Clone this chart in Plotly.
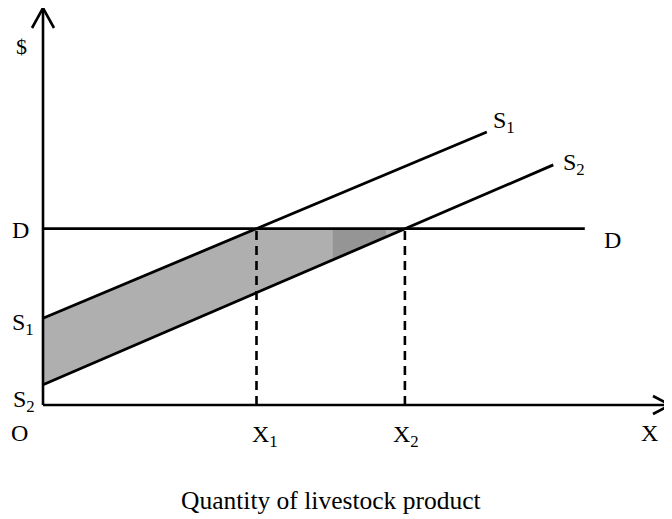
import numpy as np
import plotly.graph_objects as go

# ---- data (units of the diagram) ----
price_D = 2.52            # demand (price) level
qty_X1 = 3.05             # quantity at S1 ∩ D
qty_X2 = 5.17             # quantity at S2 ∩ D
D_x = [0.0, 7.74]
D_y = [2.52, 2.52]
S1_x = [0.0, 6.34]
S1_y = [1.24, 3.90]
S2_x = [0.0, 7.29]
S2_y = [0.29, 3.43]
dark_band_x = [4.14, 4.90]  # darker part of the shaded triangle

# ---- layout geometry ----
PAGE_OFF = 8               # default page margin of the html body
W, H = 672 - PAGE_OFF, 519 - PAGE_OFF
UNIT = 70.0                # px per unit
ORIG_PX = (43 - PAGE_OFF, 405 - PAGE_OFF)   # pixel position of origin inside figure
xr = [-ORIG_PX[0] / UNIT, (W - ORIG_PX[0]) / UNIT]
yr = [-(H - ORIG_PX[1]) / UNIT, ORIG_PX[1] / UNIT]
x_axis_end = (670 - 43) / UNIT
y_axis_end = (405 - 8) / UNIT

def s2_at(x):
    return float(np.interp(x, S2_x, S2_y))

fig = go.Figure()

# shaded area between supplies, bounded by demand
fig.add_trace(go.Scatter(
    x=[0, qty_X1, qty_X2, 0], y=[S1_y[0], price_D, price_D, S2_y[0]],
    fill="toself", fillcolor="#afafaf", mode="none", hoverinfo="skip"))
a, b = dark_band_x
fig.add_trace(go.Scatter(
    x=[a, b, b, a], y=[price_D, price_D, s2_at(b), s2_at(a)],
    fill="toself", fillcolor="#959595", mode="none", hoverinfo="skip"))

line = dict(color="black", width=2.8)
# supply and demand lines
for xs, ys in [(D_x, D_y), (S1_x, S1_y), (S2_x, S2_y)]:
    fig.add_trace(go.Scatter(x=xs, y=ys, mode="lines", line=line, hoverinfo="skip"))

# dashed verticals
for q in [qty_X1, qty_X2]:
    fig.add_trace(go.Scatter(x=[q, q], y=[0, price_D], mode="lines",
                             line=dict(color="black", width=2.6, dash="9px,6px"),
                             hoverinfo="skip"))

# axes with open arrowheads
ax_line = dict(color="black", width=2.6)
fig.add_trace(go.Scatter(x=[0, 0], y=[0, y_axis_end], mode="lines", line=ax_line, hoverinfo="skip"))
fig.add_trace(go.Scatter(x=[0, x_axis_end], y=[0, 0], mode="lines", line=ax_line, hoverinfo="skip"))
dx, dy = 11 / UNIT, 20 / UNIT
fig.add_trace(go.Scatter(x=[-dx, 0, dx], y=[y_axis_end - dy, y_axis_end, y_axis_end - dy],
                         mode="lines", line=ax_line, hoverinfo="skip"))
hx, hy = 17 / UNIT, 9 / UNIT
fig.add_trace(go.Scatter(x=[x_axis_end - hx, x_axis_end, x_axis_end - hx], y=[hy, 0, -hy],
                         mode="lines", line=ax_line, hoverinfo="skip"))

FONT = dict(family="Liberation Serif, Times New Roman, serif", size=24, color="black")

def label(text, px, py, size=None):
    f = dict(FONT)
    if size:
        f["size"] = size
    fig.add_annotation(x=(px - PAGE_OFF) / W, y=1 - (py - PAGE_OFF) / H,
                       xref="paper", yref="paper",
                       text=text, showarrow=False, font=f,
                       xanchor="center", yanchor="middle")

label("$", 22, 46, 22)
label("D", 20, 230)
label("S<sub>1</sub>", 23, 324)
label("S<sub>2</sub>", 24, 401)
label("O", 19, 433)
label("X<sub>1</sub>", 265, 436)
label("X<sub>2</sub>", 406, 436)
label("X", 649, 433)
label("S<sub>1</sub>", 504, 122)
label("S<sub>2</sub>", 574, 164)
label("D", 612, 240)
label("Quantity of livestock product", 331, 500, 25.5)

fig.update_layout(
    width=W, height=H,
    margin=dict(l=0, r=0, t=0, b=0),
    paper_bgcolor="white", plot_bgcolor="white",
    showlegend=False,
    xaxis=dict(range=xr, visible=False, fixedrange=True),
    yaxis=dict(range=yr, visible=False, fixedrange=True),
)

fig.write_html("out.html")
